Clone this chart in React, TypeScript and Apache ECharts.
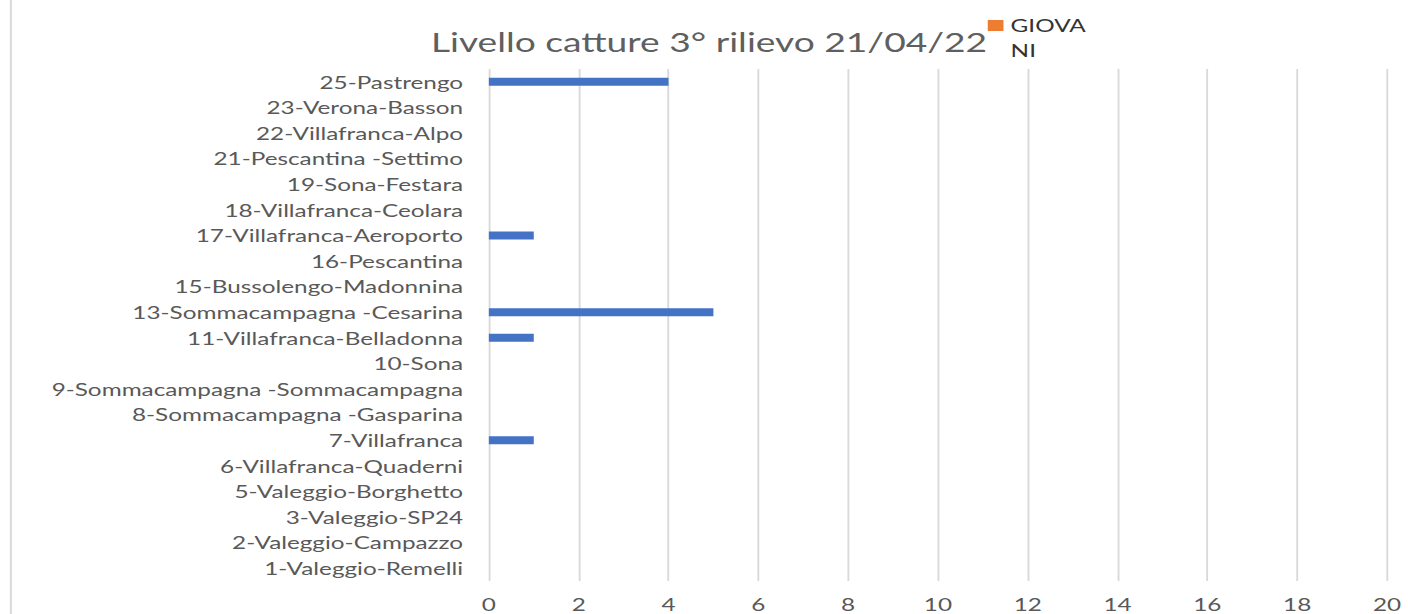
import React, { useEffect, useRef } from "react";
import * as echarts from "echarts";

const categories = [
  "1-Valeggio-Remelli",
  "2-Valeggio-Campazzo",
  "3-Valeggio-SP24",
  "5-Valeggio-Borghetto",
  "6-Villafranca-Quaderni",
  "7-Villafranca",
  "8-Sommacampagna -Gasparina",
  "9-Sommacampagna -Sommacampagna",
  "10-Sona",
  "11-Villafranca-Belladonna",
  "13-Sommacampagna -Cesarina",
  "15-Bussolengo-Madonnina",
  "16-Pescantina",
  "17-Villafranca-Aeroporto",
  "18-Villafranca-Ceolara",
  "19-Sona-Festara",
  "21-Pescantina -Settimo",
  "22-Villafranca-Alpo",
  "23-Verona-Basson",
  "25-Pastrengo",
];

const catture = [0, 0, 0, 0, 0, 1, 0, 0, 0, 1, 5, 0, 0, 1, 0, 0, 0, 0, 0, 4];
const giovani: (number | null)[] = [];

const xTicks = { min: 0, max: 20, interval: 2 };
const titleText = "Livello catture 3° rilievo 21/04/22";
const legendName = "GIOVANI";

// The reference picture is horizontally stretched; the chart is drawn at a
// narrower width and stretched with a CSS transform to reproduce it.
const PAGE_W = 1408;
const PAGE_H = 614;
const CHART_W = 985;
const SX = PAGE_W / CHART_W;

export default function App() {
  const ref = useRef<HTMLDivElement>(null);

  useEffect(() => {
    document.body.style.margin = "0";
    document.body.style.overflow = "hidden";
    if (!ref.current) return;
    const chart = echarts.init(ref.current, null, { renderer: "svg" });
    chart.setOption({
      animation: false,
      backgroundColor: "#ffffff",
      textStyle: { fontFamily: "Lato" },
      title: {
        text: titleText,
        left: 491,
        top: 24,
        textAlign: "center",
        textStyle: {
          fontFamily: "Lato",
          fontSize: 26,
          fontWeight: "normal",
          color: "#5f5f5f",
        },
      },
      legend: {
        data: [legendName],
        left: 691,
        top: -12,
        padding: 0,
        itemWidth: 11,
        itemHeight: 11,
        icon: "rect",
        formatter: () => "\nGIOVA\nNI",
        textStyle: {
          fontFamily: "Lato",
          fontSize: 17,
          color: "#333333",
          lineHeight: 25,
        },
      },
      grid: { left: 342, right: 14.7, top: 69, bottom: 33, containLabel: false },
      xAxis: {
        type: "value",
        min: xTicks.min,
        max: xTicks.max,
        interval: xTicks.interval,
        axisLine: { show: false },
        axisTick: { show: false },
        axisLabel: {
          color: "#595959",
          fontSize: 17,
          fontFamily: "Lato",
          margin: 15,
        },
        splitLine: { show: true, lineStyle: { color: "#d9d9d9", width: 1.3 } },
      },
      yAxis: {
        type: "category",
        data: categories,
        axisLine: { show: false },
        axisTick: { show: false },
        axisLabel: {
          color: "#595959",
          fontSize: 17,
          fontFamily: "Lato",
          margin: 18,
        },
        splitLine: { show: false },
      },
      series: [
        {
          name: "ADULTI",
          type: "bar",
          data: catture,
          barWidth: 8,
          barGap: "-100%",
          itemStyle: { color: "#4472c4" },
        },
        {
          name: legendName,
          type: "bar",
          data: giovani,
          barWidth: 8,
          itemStyle: { color: "#ed7d31" },
        },
      ],
      graphic: [
        {
          type: "line",
          shape: { x1: 7.6, y1: 0, x2: 7.6, y2: PAGE_H },
          style: { stroke: "#d9d9d9", lineWidth: 1.4 },
        },
      ],
    });
    return () => chart.dispose();
  }, []);

  return (
    <div
      style={{
        width: CHART_W,
        height: PAGE_H,
        transform: `scaleX(${SX})`,
        transformOrigin: "0 0",
      }}
    >
      <div ref={ref} style={{ width: CHART_W, height: PAGE_H }} />
    </div>
  );
}
